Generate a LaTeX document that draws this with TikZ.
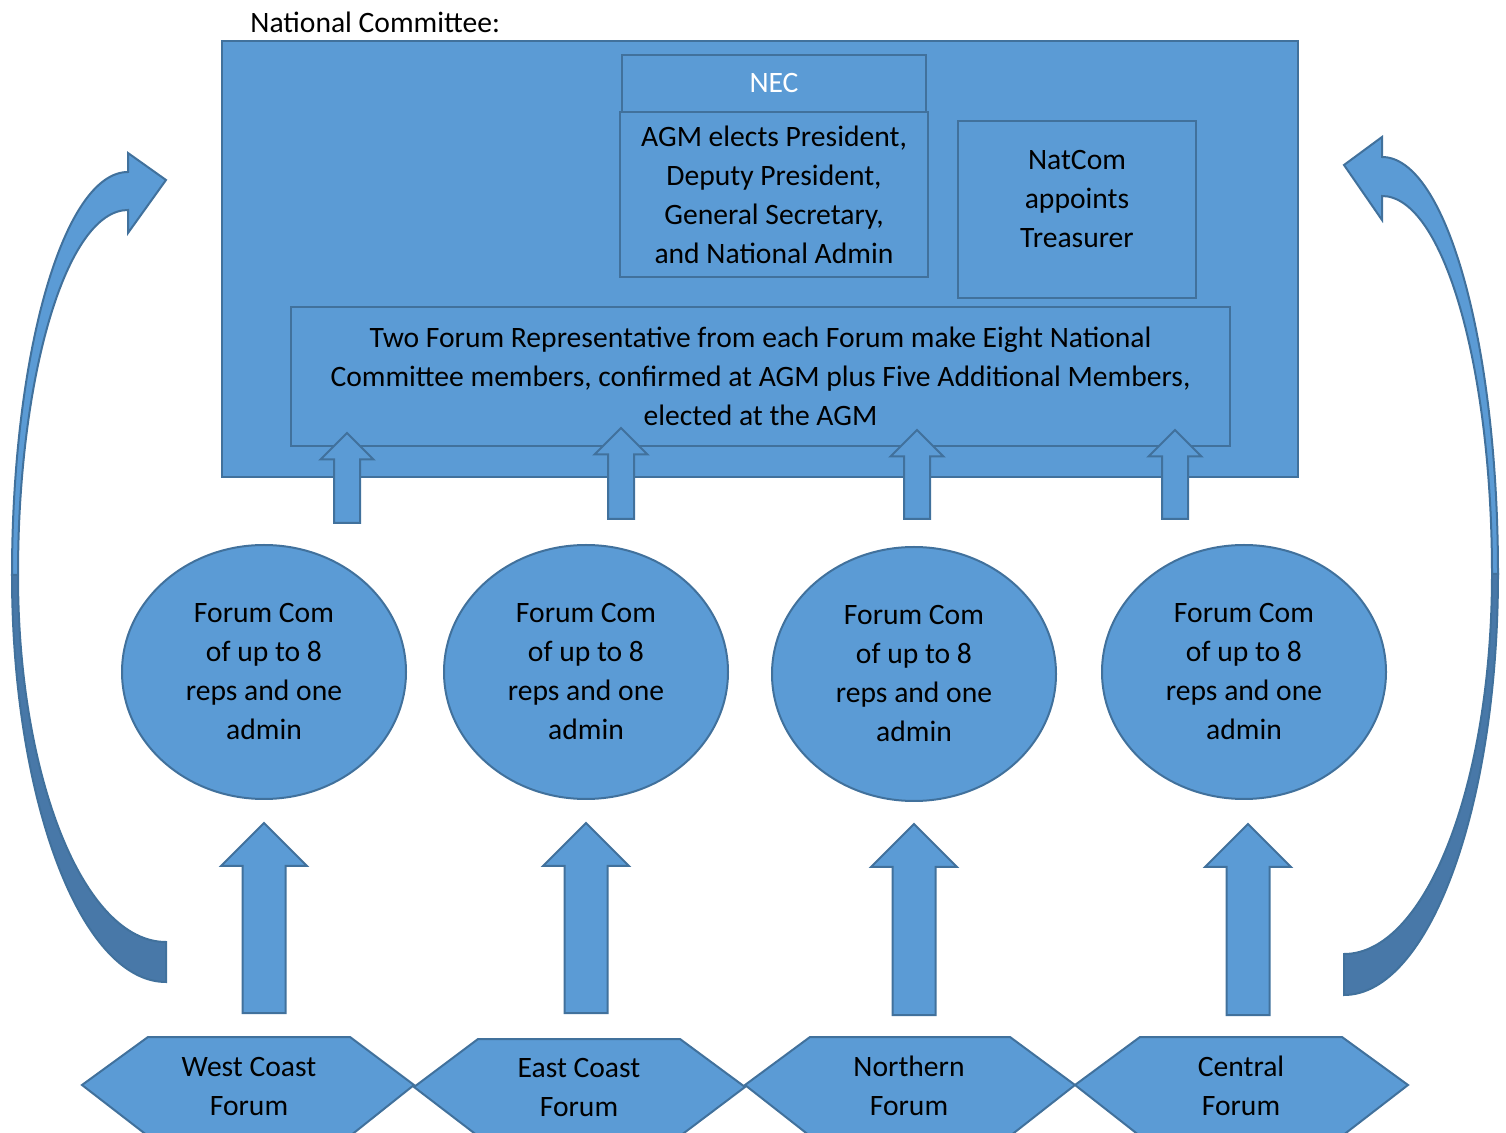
\documentclass[tikz,border=0pt]{standalone}
\usepackage{fontspec}
\setmainfont{Carlito}
\usetikzlibrary{shapes.geometric}
\definecolor{boxfill}{HTML}{5B9BD5}
\definecolor{boxline}{HTML}{41719C}
\definecolor{backfill}{HTML}{4878A8}

\newcommand{\uparr}[5]{%
  \draw[arrowbox] (#1-#4,#3) -- (#1-#4,#2+#5) -- (#1-#5,#2+#5) -- (#1,#2)
    -- (#1+#5,#2+#5) -- (#1+#4,#2+#5) -- (#1+#4,#3) -- cycle;}

\begin{document}
\begin{tikzpicture}[x=0.5pt,y=-0.5pt,
    txt/.style={font=\fontsize{14.8}{19.5}\selectfont,align=center},
    box/.style={draw=boxline,fill=boxfill,line width=1pt,inner sep=0pt},
    arrowbox/.style={draw=boxline,fill=boxfill,line width=1pt,line join=miter},
    forum/.style={box,ellipse,minimum width=142pt,minimum height=127pt,txt},
    hexlab/.style={txt}]
   \useasboundingbox (0,0) rectangle (1506,1133);

   \node[txt,anchor=west,inner sep=0pt] (title) at (250,22) {National Committee:};

   \node[box,minimum width=538pt,minimum height=218pt] (natcom) at (760,259) {};
   \node[box,minimum width=152pt,minimum height=28.5pt,txt,text=white] (nec) at (774,83.5) {NEC};
   \node[box,minimum width=154pt,minimum height=82.5pt,txt] (agm) at (774,194.5)
      {AGM elects President,\\Deputy President,\\General Secretary,\\and National Admin};
   \node[box,minimum width=119pt,minimum height=88.5pt] (treas) at (1077,209.5) {};
   \node[txt] (treastxt) at (1077,199) {NatCom\\appoints\\Treasurer};
   \node[box,minimum width=469.5pt,minimum height=69.5pt,txt] (reps) at (760.5,376.5)
      {Two Forum Representative from each Forum make Eight National\\Committee members, confirmed at AGM plus Five Additional Members,\\elected at the AGM};

   \uparr{347}{433}{523}{13}{26.5}
   \uparr{621}{428}{519}{13}{26.5}
   \uparr{917}{430}{519}{13}{26.5}
   \uparr{1175}{430}{519}{13}{26.5}

   \node[forum] (f1) at (264,672) {Forum Com\\of up to 8\\reps and one\\admin};
   \node[forum] (f2) at (586,672) {Forum Com\\of up to 8\\reps and one\\admin};
   \node[forum] (f3) at (914,674) {Forum Com\\of up to 8\\reps and one\\admin};
   \node[forum] (f4) at (1244,672) {Forum Com\\of up to 8\\reps and one\\admin};

   \uparr{264}{823}{1013}{21.5}{43}
   \uparr{586}{823}{1013}{21.5}{43}
   \uparr{914}{824}{1015}{21.5}{43}
   \uparr{1248}{824}{1015}{21.5}{43}

   \draw[box] (82,1085) -- (148,1037) -- (350,1037) -- (414,1085) -- (350,1136) -- (148,1136) -- cycle;
   \draw[box] (414,1087) -- (478,1039) -- (680,1039) -- (745,1087) -- (680,1136) -- (478,1136) -- cycle;
   \draw[box] (745,1085) -- (810,1037) -- (1010,1037) -- (1075,1085) -- (1010,1136) -- (810,1136) -- cycle;
   \draw[box] (1075,1085) -- (1140,1037) -- (1342,1037) -- (1408,1085) -- (1342,1136) -- (1140,1136) -- cycle;
   \node[hexlab] (west) at (249,1086.5) {West Coast\\Forum};
   \node[hexlab] (east) at (579,1088) {East Coast\\Forum};
   \node[hexlab] (north) at (909,1085.5) {Northern\\Forum};
   \node[hexlab] (central) at (1241,1086) {Central\\Forum};

   \draw[arrowbox,fill=backfill] (12,575) .. controls (12,800) and (81,982) .. (166,982)
      -- (166,942) .. controls (84,942) and (18,778) .. (18,575) -- cycle;
   \draw[arrowbox] (128,153) -- (166,180) -- (128,233) -- (128,210)
      .. controls (67,210) and (18,374) .. (18,575) -- (12,575)
      .. controls (12,352) and (64,172) .. (128,172) -- cycle;

   \draw[arrowbox,fill=backfill] (1498,574) .. controls (1498,807) and (1429,995) .. (1344,995)
      -- (1344,954) .. controls (1426,954) and (1492,784) .. (1492,574) -- cycle;
   \draw[arrowbox] (1382,137) -- (1344,165) -- (1382,220) -- (1382,196)
      .. controls (1443,196) and (1492,366) .. (1492,574) -- (1498,574)
      .. controls (1498,343) and (1446,157) .. (1382,157) -- cycle;
\end{tikzpicture}
\end{document}
